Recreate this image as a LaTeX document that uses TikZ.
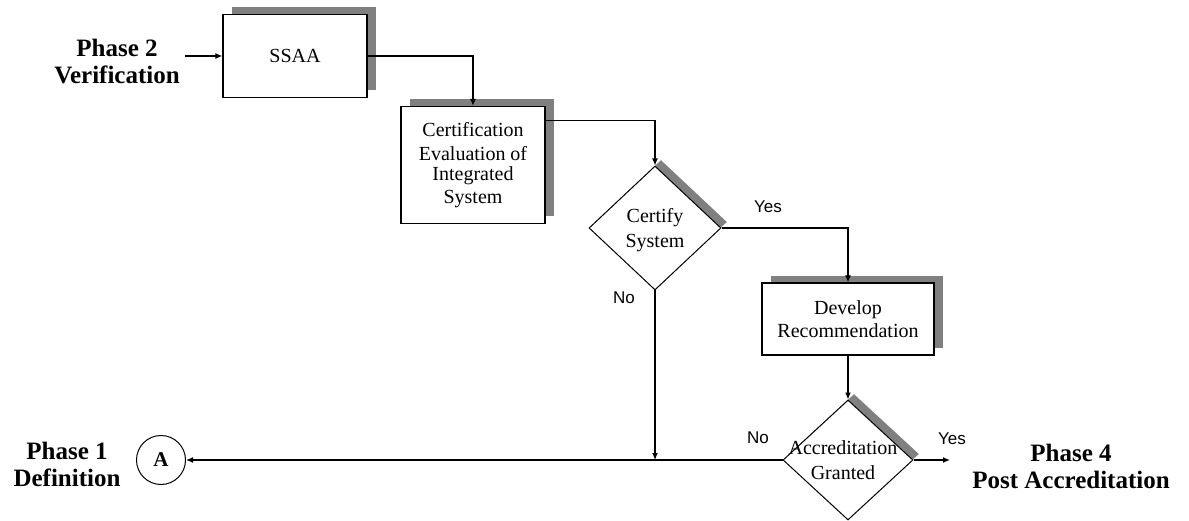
\documentclass[tikz,border=0pt]{standalone}
\usepackage{fontspec}
\setmainfont{Liberation Serif}
\newfontfamily\labelfont{Liberation Sans}
\usetikzlibrary{arrows.meta,shapes.geometric,shadows}

\definecolor{shadowgray}{HTML}{808080}

\begin{document}
\begin{tikzpicture}[x=1pt,y=1pt,
process/.style={rectangle, draw, fill=white, line width=1.3pt, align=center,
  inner sep=2pt, font=\fontsize{20}{23}\selectfont,
  general shadow={shadow xshift=9pt, shadow yshift=7pt, fill=shadowgray}},
decision/.style={diamond, draw, fill=white, line width=1pt, inner sep=0pt,
  minimum width=132pt, minimum height=124pt,
  general shadow={shadow xshift=6pt, shadow yshift=6pt, fill=shadowgray}},
dectext/.style={draw=none, fill=none, inner sep=0pt, align=center,
  font=\fontsize{20}{25}\selectfont},
phase/.style={draw=none, align=center, inner sep=1pt,
  font=\fontsize{25}{27}\selectfont\bfseries},
answer/.style={draw=none, inner sep=0pt, font=\labelfont\fontsize{17}{20}\selectfont},
connector/.style={circle, draw, line width=1pt, minimum size=49pt, inner sep=0pt,
  font=\fontsize{21}{22}\selectfont\bfseries},
edge/.style={line width=1.3pt},
flow/.style={edge, -{Latex[length=7pt,width=6pt]}}]

\useasboundingbox (0,0) rectangle (1189,-521);

%% process boxes
\node[process, minimum width=144pt, minimum height=83pt] (ssaa) at (295,-56) {SSAA};
\node[process, minimum width=144pt, minimum height=117pt] (cert) at (473,-165)
  {Certification\\[1pt] Evaluation of\\[-3pt] Integrated\\ System};
\node[process, minimum width=172pt, minimum height=72pt] (develop) at (848,-319)
  {Develop\\ Recommendation};

%% decisions
\node[decision] (certify) at (655,-228) {};
\node[dectext] at ([yshift=-2pt]certify.center) {Certify\\ System};
\node[decision, minimum width=130pt, minimum height=120pt] (accred) at (848,-460) {};
\node[dectext] at ([xshift=-5pt]accred.center) {Accreditation\\ Granted};

%% off-page connector
\node[connector] (conA) at (161,-460) {A};

%% phase labels
\node[phase] (phase2) at (117,-62) {Phase 2\\ Verification};
\node[phase] (phase1) at (67,-464) {Phase 1\\ Definition};
\node[phase] (phase4) at (1071,-466) {Phase 4\\ Post Accreditation};
\coordinate (yesend) at (950,-460);

%% answers
\node[answer] (yes1) at (768,-207) {Yes};
\node[answer] (no1) at (624,-298) {No};
\node[answer] (no2) at (758,-438) {No};
\node[answer] (yes2) at (952,-439) {Yes};

%% flow
\draw[flow] ([xshift=4pt]phase2.east |- ssaa.west) -- (ssaa.west);
\draw[flow] (ssaa.east) -| (cert.north);
\draw[flow] ([yshift=-15pt]cert.north east) -| (certify.north);
\draw[flow] (certify.east) -| (develop.north);
\draw[flow] (develop.south) -- (accred.north);
\draw[flow] (certify.south) -- (certify.south |- accred.west);
\draw[flow] (accred.west) -- (conA.east);
\draw[flow] (accred.east) -- (yesend);

\end{tikzpicture}
\end{document}
